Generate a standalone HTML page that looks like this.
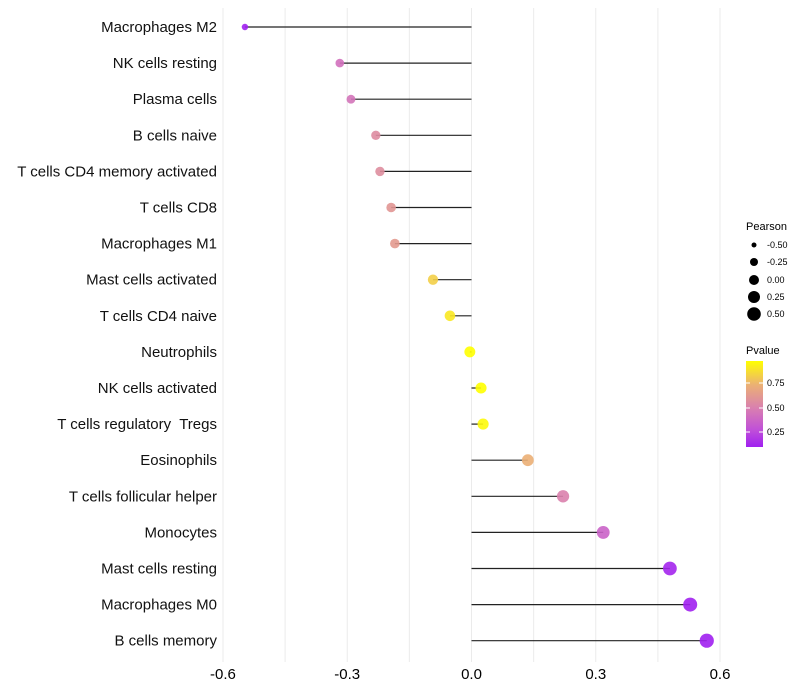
<!DOCTYPE html>
<html><head><meta charset="utf-8"><style>body{margin:0;background:#fff}svg{display:block;font-family:"Liberation Sans",sans-serif}text{white-space:pre}</style></head>
<body>
<svg id="chart" width="800" height="700" viewBox="0 0 800 700">
<defs><linearGradient id="pg" x1="0" y1="1" x2="0" y2="0">
<stop offset="0" stop-color="#a020f0"/><stop offset="0.2" stop-color="#c050d8"/><stop offset="0.45" stop-color="#d97fb0"/><stop offset="0.72" stop-color="#ebb075"/><stop offset="1" stop-color="#ffff00"/></linearGradient></defs>
<g id="grid"></g><g id="marks"></g><g id="labels"></g>
<g font-size="10">
<text x="746" y="230" font-size="11">Pearson</text>
<circle cx="754" cy="245" r="2.5"/><text x="767" y="248" font-size="9">-0.50</text>
<circle cx="754" cy="262" r="4"/><text x="767" y="265" font-size="9">-0.25</text>
<circle cx="754" cy="280" r="5"/><text x="767" y="283" font-size="9">0.00</text>
<circle cx="754" cy="297" r="6"/><text x="767" y="300" font-size="9">0.25</text>
<circle cx="754" cy="314" r="6.8"/><text x="767" y="317" font-size="9">0.50</text>
</g>
<g>
<text x="746" y="354" font-size="11">Pvalue</text>
<rect x="746" y="361" width="17" height="86" fill="url(#pg)"/>
<g stroke="#fff" stroke-width="1"><line x1="746" y1="383" x2="750" y2="383"/><line x1="759" y1="383" x2="763" y2="383"/><line x1="746" y1="408" x2="750" y2="408"/><line x1="759" y1="408" x2="763" y2="408"/><line x1="746" y1="432" x2="750" y2="432"/><line x1="759" y1="432" x2="763" y2="432"/></g>
<text x="767" y="386" font-size="9">0.75</text><text x="767" y="411" font-size="9">0.50</text><text x="767" y="435" font-size="9">0.25</text>
</g>
</svg>
<script>
const categories=["Macrophages M2","NK cells resting","Plasma cells","B cells naive","T cells CD4 memory activated","T cells CD8","Macrophages M1","Mast cells activated","T cells CD4 naive","Neutrophils","NK cells activated","T cells regulatory  Tregs","Eosinophils","T cells follicular helper","Monocytes","Mast cells resting","Macrophages M0","B cells memory"];
const pearson=[-0.547,-0.318,-0.291,-0.231,-0.221,-0.194,-0.185,-0.093,-0.052,-0.004,0.023,0.028,0.136,0.221,0.318,0.479,0.528,0.568];
const pvalues=[0.1,0.42,0.44,0.55,0.56,0.6,0.62,0.82,0.9,0.99,0.97,0.95,0.72,0.5,0.36,0.12,0.1,0.07];
const xTicks=[-0.6,-0.3,0,0.3,0.6];
const xTickLabels=["-0.6","-0.3","0.0","0.3","0.6"];
const NS="http://www.w3.org/2000/svg";
const xs=v=>471.5+v*414.2;
const ys=i=>27+i*36.1;
const rs=v=>Math.sqrt(Math.max(4,30+36*v));
const stops=[[0,[160,32,240]],[0.2,[192,80,216]],[0.45,[217,127,176]],[0.72,[235,176,117]],[1,[255,255,0]]];
function col(p){const t=Math.min(1,Math.max(0,(p-0.097)/(0.97-0.097)));for(let k=1;k<stops.length;k++){if(t<=stops[k][0]){const a=stops[k-1],b=stops[k],f=(t-a[0])/(b[0]-a[0]);return"rgb("+a[1].map((c,j)=>Math.round(c+(b[1][j]-c)*f)).join(",")+")";}}return"rgb(255,255,0)";}
function mk(tag,at,parent){const e=document.createElementNS(NS,tag);for(const k in at)e.setAttribute(k,at[k]);parent.appendChild(e);return e;}
const grid=document.getElementById('grid'),marks=document.getElementById('marks'),labels=document.getElementById('labels');
for(let v=-0.6;v<=0.61;v+=0.15){const l=mk('line',{x1:xs(v),x2:xs(v),y1:8,y2:662,stroke:'#ebebeb','stroke-width':1},grid);

}
xTicks.forEach((v,i)=>{const t=mk('text',{x:xs(v),y:679,'text-anchor':'middle','font-size':15,fill:'#000'},labels);t.textContent=xTickLabels[i];

});
categories.forEach((c,i)=>{const y=ys(i);
const t=mk('text',{x:217,y:y+5,'text-anchor':'end','font-size':15,fill:'#111'},labels);t.textContent=c;


const s=mk('line',{x1:xs(0),x2:xs(pearson[i]),y1:y,y2:y,stroke:'#222','stroke-width':1.2},marks);


const d=mk('circle',{cx:xs(pearson[i]),cy:y,r:rs(pearson[i]),fill:col(pvalues[i]),'fill-opacity':0.9},marks);

});
</script>
</body></html>
